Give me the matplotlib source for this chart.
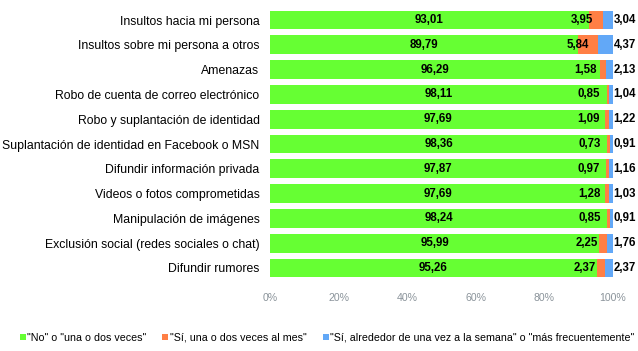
import matplotlib
matplotlib.use("Agg")
import matplotlib.pyplot as plt
from matplotlib.lines import Line2D
import numpy as np

categories = [
    "Insultos hacia mi persona",
    "Insultos sobre mi persona a otros",
    "Amenazas",
    "Robo de cuenta de correo electrónico",
    "Robo y suplantación de identidad",
    "Suplantación de identidad en Facebook o MSN",
    "Difundir información privada",
    "Videos o fotos comprometidas",
    "Manipulación de imágenes",
    "Exclusión social (redes sociales o chat)",
    "Difundir rumores",
]
no_values = [93.01, 89.79, 96.29, 98.11, 97.69, 98.36, 97.87, 97.69, 98.24, 95.99, 95.26]
month_values = [3.95, 5.84, 1.58, 0.85, 1.09, 0.73, 0.97, 1.28, 0.85, 2.25, 2.37]
week_values = [3.04, 4.37, 2.13, 1.04, 1.22, 0.91, 1.16, 1.03, 0.91, 1.76, 2.37]
series_names = ['"No" o "una o dos veces"',
                '"Sí, una o dos veces al mes"',
                '"Sí, alrededor de una vez a la semana" o "más frecuentemente"']
xticks = [0, 20, 40, 60, 80, 100]

colors = ["#66FF33", "#FF7F45", "#62A8F7"]
FONT = "Liberation Sans"
plt.rcParams["font.family"] = [FONT, "DejaVu Sans"]

def fmt(v):
    return f"{v:.2f}".replace(".", ",")

fig = plt.figure(figsize=(6.38, 3.51), dpi=100)
W, H = 638, 351
ax = fig.add_axes([270 / W, 1 - 280.4 / H, (613 - 270) / W, (280.4 - 7.6) / H])

y = np.arange(len(categories))
no = np.array(no_values)
mo = np.array(month_values)
wk = np.array(week_values)
h = 0.76
ax.barh(y, no, height=h, color=colors[0], linewidth=0)
ax.barh(y, mo, left=no, height=h, color=colors[1], linewidth=0)
ax.barh(y, wk, left=no + mo, height=h, color=colors[2], linewidth=0)

vfs = 8.3
for i in range(len(categories)):
    ax.text(no[i] / 2, y[i], fmt(no[i]), ha="center", va="center",
            fontsize=vfs, fontweight="bold", color="black")
    ax.annotate(fmt(mo[i]), xy=(no[i] + mo[i], y[i]), xytext=(-6.5, 0),
                textcoords="offset points", ha="right", va="center",
                fontsize=vfs, fontweight="bold", color="black")
    ax.annotate(fmt(wk[i]), xy=(100, y[i]), xytext=(0.5, 0),
                textcoords="offset points", ha="left", va="center",
                fontsize=vfs, fontweight="bold", color="black")

ax.set_xlim(0, 100)
ax.set_ylim(len(categories) - 0.5, -0.5)
ax.set_yticks(y)
ax.set_yticklabels(categories, fontsize=8.8, color="black")
ax.set_xticks(xticks)
ax.set_xticklabels([f"{t}%" for t in xticks], fontsize=7.6, color="#8A939A")
ax.tick_params(axis="both", length=0)
ax.tick_params(axis="y", pad=7.5)
ax.tick_params(axis="x", pad=9)
for s in ax.spines.values():
    s.set_visible(False)

handles = [Line2D([], [], marker="s", linestyle="none", markersize=3.8,
                  markerfacecolor=c, markeredgewidth=0) for c in colors]
fig.legend(handles, series_names, loc="center", bbox_to_anchor=(0.513, 1 - 338 / H),
           ncol=3, frameon=False, fontsize=7.7, handlelength=0.4,
           handletextpad=0.2, columnspacing=1.6)

fig.savefig("out.png", dpi=100)
